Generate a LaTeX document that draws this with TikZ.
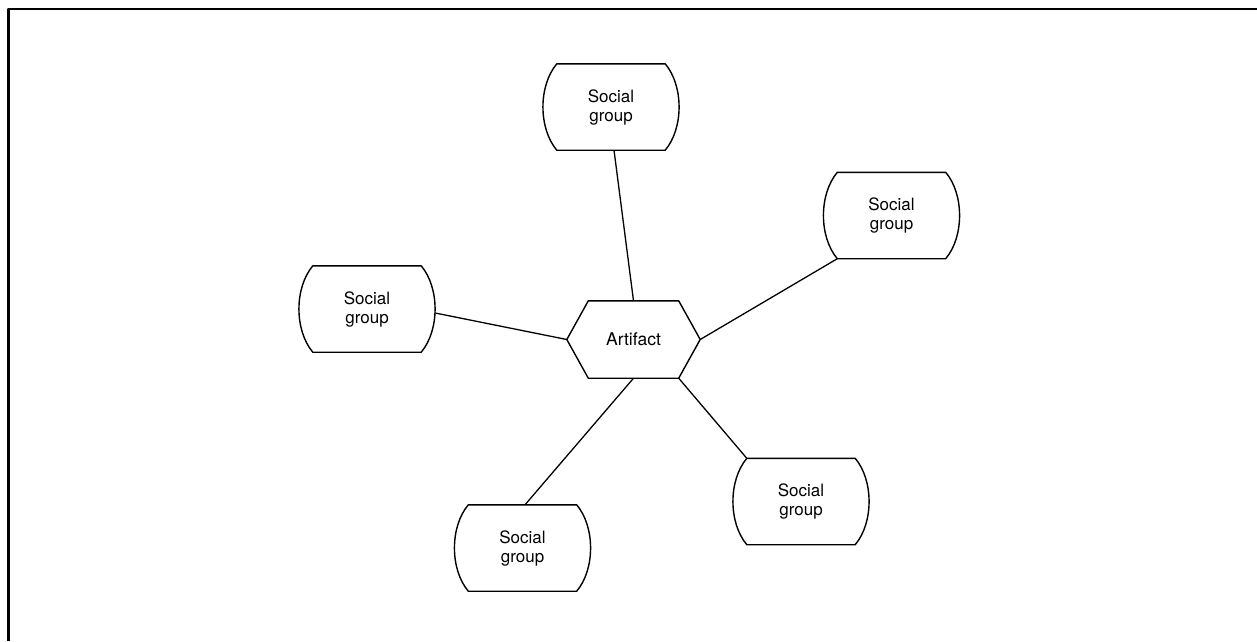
\documentclass[tikz,border=0pt]{standalone}
\usepackage{fontspec}
\setmainfont{TeX Gyre Heros}
\usetikzlibrary{calc}
\begin{document}
\begin{tikzpicture}[x=1pt,y=-1pt,
  line join=round,
  sgbox/.style={draw=none,minimum width=108pt,minimum height=86pt,inner sep=0pt,
    align=center,font=\fontsize{17}{19}\selectfont},
  artbox/.style={draw=none,minimum width=133pt,minimum height=77pt,inner sep=0pt,
    font=\fontsize{17.5}{20}\selectfont},
  outline/.style={line width=1.4pt},
  link/.style={line width=1.3pt},
  frame/.style={line width=2.6pt}]
\useasboundingbox (0,0) rectangle (1257,641);

% page frame (top and left rules)
\coordinate (fbl) at (8.5,641);
\coordinate (ftl) at (8.5,9);
\coordinate (ftr) at (1257,9);
\draw[frame] (fbl) -- (ftl) -- (ftr);

% central artifact
\node[artbox] (art) at (633.5,339.5) {Artifact};
\coordinate (artNW) at ($(art.north west)+(21.5,0)$);
\coordinate (artNE) at ($(art.north east)+(-21.5,0)$);
\coordinate (artSW) at ($(art.south west)+(21.5,0)$);
\coordinate (artSE) at ($(art.south east)+(-21.5,0)$);
\draw[outline] (art.west) -- (artNW) -- (artNE) -- (art.east) -- (artSE) -- (artSW) -- cycle;

% social groups
\node[sgbox] (sgT)  at (611,107)    {Social\\group};
\node[sgbox] (sgL)  at (367,309)    {Social\\group};
\node[sgbox] (sgR)  at (891.5,215.5){Social\\group};
\node[sgbox] (sgBR) at (801,501.5)  {Social\\group};
\node[sgbox] (sgB)  at (522.5,548)  {Social\\group};

\foreach \n in {sgT,sgL,sgR,sgBR,sgB}{
  \draw[outline] (\n.north west) -- (\n.north east)
    .. controls ($(\n.north east)+(18.5,22)$) and ($(\n.south east)+(18.5,-22)$) .. (\n.south east)
    -- (\n.south west)
    .. controls ($(\n.south west)+(-18.5,-22)$) and ($(\n.north west)+(-18.5,22)$) .. (\n.north west) -- cycle;
}

% connectors
\draw[link] ([xshift=3pt]sgT.south) -- (art.north);
\draw[link] ([xshift=14pt,yshift=-4pt]sgL.east) -- (art.west);
\draw[link] (sgR.south west) -- (art.east);
\draw[link] (sgBR.north west) -- (artSE);
\draw[link] ([xshift=2.5pt]sgB.north) -- (art.south);
\end{tikzpicture}
\end{document}
